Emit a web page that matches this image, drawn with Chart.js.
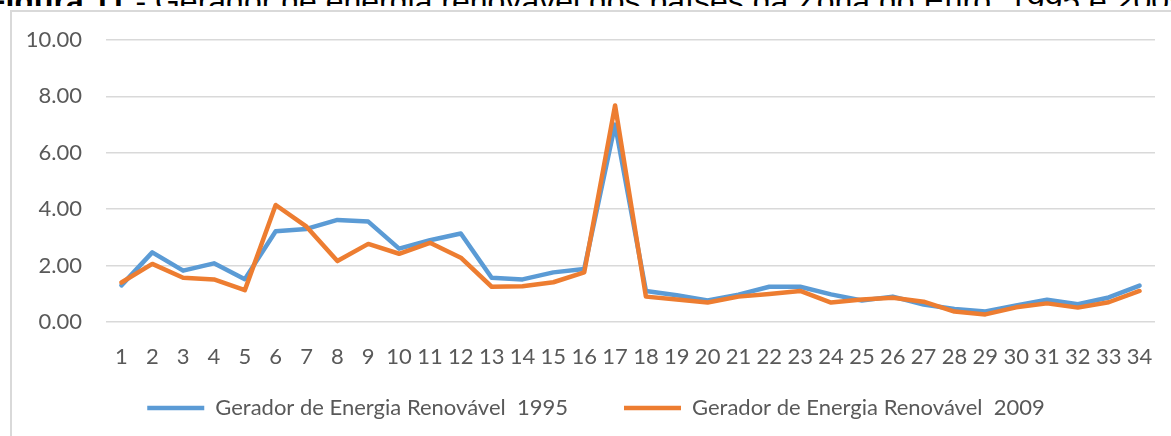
<!DOCTYPE html>
<html>
<head>
<meta charset="utf-8">
<script src="https://cdn.jsdelivr.net/npm/chart.js@4/dist/chart.umd.min.js"></script>
<style>
    html, body { margin: 0; padding: 0; background: #fff; overflow: hidden; width: 1171px; height: 436px; }
    #title {
        position: absolute; left: -14px; top: -15px; white-space: nowrap;
        font-family: "Liberation Sans", Arial, sans-serif; font-size: 32px; line-height: 32px; color: #000;
    }
    #cover { position: absolute; left: 0; top: 6px; width: 1171px; height: 440px; background: #fff; }
    #frame { position: absolute; left: 10px; top: 10px; width: 1300px; height: 600px; border: 2px solid #d9d9d9; }
    #weightChart { position: absolute; left: 0; top: 0; }
</style>
</head>
<body>
<div id="title"><b>Figura 11</b> - Gerador de energia renovável dos países da Zona do Euro, 1995 e 2009</div>
<div id="cover"></div>
<div id="frame"></div>
<canvas id="weightChart" width="1171" height="456" style="width:1171px;height:456px"></canvas>
<script>
const paises = [];
for (let i = 1; i <= 34; i++) paises.push(String(i));

const energia1995 = [1.30, 2.47, 1.82, 2.08, 1.52, 3.22, 3.30, 3.62, 3.56, 2.60,
    2.90, 3.14, 1.57, 1.51, 1.76, 1.88, 7.00, 1.10, 0.95, 0.76,
    0.97, 1.25, 1.25, 0.98, 0.76, 0.90, 0.62, 0.46, 0.37, 0.59,
    0.79, 0.63, 0.87, 1.29];
const energia2009 = [1.40, 2.06, 1.57, 1.51, 1.13, 4.15, 3.38, 2.16, 2.77, 2.42,
    2.81, 2.28, 1.25, 1.27, 1.41, 1.76, 7.68, 0.90, 0.80, 0.69,
    0.90, 0.99, 1.10, 0.69, 0.80, 0.86, 0.72, 0.37, 0.27, 0.52,
    0.66, 0.51, 0.70, 1.10];
const yTicks = [0, 2, 4, 6, 8, 10];

const fonte = "Lato, 'Open Sans', sans-serif";
const cinza = '#595959';

// a legenda do original fica mais à direita e mais perto do eixo
const deslocaLegenda = {
    id: 'deslocaLegenda',
    afterLayout(chart) {
        chart.legend.left += 12.5;
        chart.legend.right += 12.5;
        chart.legend.top -= 27;
        chart.legend.bottom -= 27;
    }
};

var ctx = document.getElementById('weightChart').getContext('2d');
var chart = new Chart(ctx, {
    type: 'line',
    data: {
        labels: paises,
        datasets: [
            {
                label: 'Gerador de Energia Renovável  1995',
                data: energia1995,
                borderColor: '#5B9BD5',
                backgroundColor: '#5B9BD5',
                borderWidth: 4.5,
                borderCapStyle: 'round',
                borderJoinStyle: 'round',
                pointRadius: 0,
                tension: 0,
                order: 1
            },
            {
                label: 'Gerador de Energia Renovável  2009',
                data: energia2009,
                borderColor: '#ED7D31',
                backgroundColor: '#ED7D31',
                borderWidth: 4.5,
                borderCapStyle: 'round',
                borderJoinStyle: 'round',
                pointRadius: 0,
                tension: 0,
                order: 0
            }
        ]
    },
    options: {
        responsive: false,
        animation: false,
        layout: { padding: { top: 40, left: 12, right: 16, bottom: 0 } },
        scales: {
            x: {
                offset: true,
                grid: { display: false },
                border: { display: false },
                ticks: { color: cinza, font: { family: fonte, size: 22 }, padding: 14, maxRotation: 0, autoSkip: false },
                afterFit: function (scale) { scale.height = 46; }
            },
            y: {
                min: 0,
                max: 10,
                afterBuildTicks: function (scale) { scale.ticks = yTicks.map(v => ({ value: v })); },
                grid: { color: '#d9d9d9', lineWidth: 1.5, drawTicks: false },
                border: { display: false },
                ticks: {
                    color: cinza, font: { family: fonte, size: 22 }, padding: 24,
                    callback: function (v) { return Number(v).toFixed(2); }
                },
                afterFit: function (scale) { scale.width = 94; }
            }
        },
        plugins: {
            legend: {
                position: 'bottom',
                labels: {
                    color: cinza,
                    font: { family: fonte, size: 22 },
                    usePointStyle: true,
                    pointStyle: 'line',
                    pointStyleWidth: 57,
                    padding: 56,
                    sort: (a, b) => a.datasetIndex - b.datasetIndex
                }
            },
            tooltip: { enabled: false }
        }
    },
    plugins: [deslocaLegenda]
});
</script>
</body>
</html>
